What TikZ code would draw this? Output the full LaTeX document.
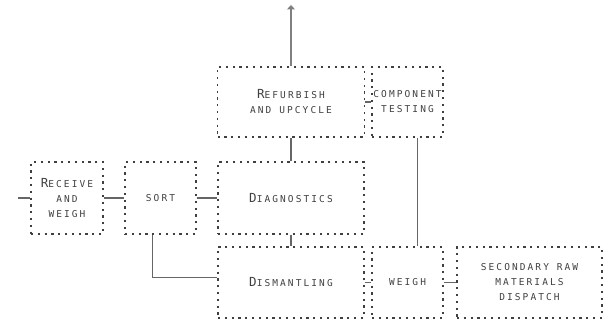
\documentclass[tikz,border=0pt]{standalone}
\usepackage{fontspec}
\usepackage{tikz}
\usetikzlibrary{arrows.meta}
\newfontfamily\boxfont[LetterSpace=22]{DejaVu Sans Mono}
\newcommand{\initial}[1]{{\fontsize{12.5}{15}\selectfont #1}}

\begin{document}
\begin{tikzpicture}[x=1pt, y=-1pt,
	every node/.style={font=\boxfont\fontsize{9.5}{15}\selectfont, text=black!75, align=center},
	stage/.style={draw=black!75, line width=1.1pt, dash pattern=on 2.2pt off 4.6pt, inner sep=0pt},
	link/.style={draw=black!60, line width=1.5pt},
	>={Triangle[length=4.5pt, width=8pt]}]
	\useasboundingbox (0,0) rectangle (605,320);
	\node[stage, minimum width=72pt, minimum height=72pt] (rcv) at (67,198) {\initial{R}ECEIVE\\AND\\WEIGH};
	\node[stage, minimum width=71pt, minimum height=72pt] (srt) at (160.5,198) {SORT};
	\node[stage, minimum width=146pt, minimum height=72pt] (diag) at (291,198) {\initial{D}IAGNOSTICS};
	\node[stage, minimum width=146pt, minimum height=71pt] (dism) at (291,282.5) {\initial{D}ISMANTLING};
	\node[stage, minimum width=71pt, minimum height=71pt] (wgh) at (407.5,282.5) {WEIGH};
	\node[stage, minimum width=145pt, minimum height=71pt] (disp) at (529.5,282.5) {SECONDARY RAW\\MATERIALS\\DISPATCH};
	\node[stage, minimum width=147pt, minimum height=70pt] (refurb) at (291,102) {\initial{R}EFURBISH\\AND UPCYCLE};
	\node[stage, minimum width=71pt, minimum height=70pt] (comp) at (407.5,102) {COMPONENT\\TESTING};
	\coordinate (in) at (18,198);
	\coordinate (out) at (291,5);
	\draw[link] (in) -- (rcv);
	\draw[link] (rcv) -- (srt);
	\draw[link] (srt) -- (diag);
	\draw[link] ([xshift=-8pt]srt.south) |- ([yshift=5pt]dism.west);
	\draw[link] (diag) -- (dism);
	\draw[link] (diag) -- (refurb);
	\draw[link] (refurb) -- (comp);
	\draw[link] (dism) -- (wgh);
	\draw[link] (wgh) -- (disp);
	\draw[link] ([xshift=10pt]comp.south) -- ([xshift=10pt]wgh.north);
	\draw[link, ->, line width=2pt, black!50] (refurb.north) -- (out);
\end{tikzpicture}
\end{document}
